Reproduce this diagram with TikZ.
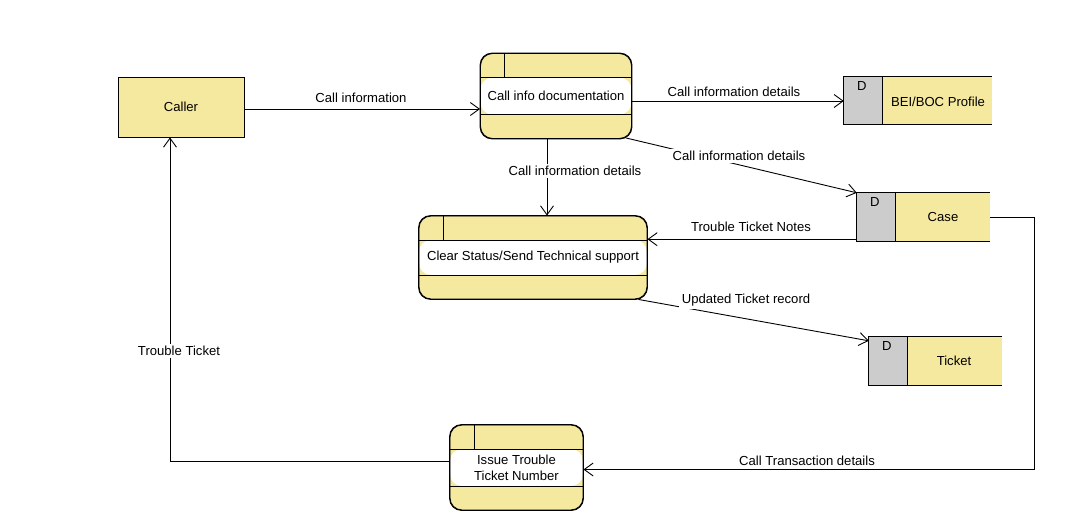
\documentclass[tikz,border=0pt]{standalone}
\usepackage{fontspec}
\setmainfont{Liberation Sans}
\usetikzlibrary{arrows.meta,calc}
\definecolor{dfdyellow}{RGB}{245,233,160}
\definecolor{dfdgray}{RGB}{204,204,204}
\tikzset{
  every node/.style={font=\fontsize{13.1}{16}\selectfont},
  ent/.style={draw, fill=dfdyellow, line width=0.9pt, inner sep=0pt},
  proc/.style={draw, fill=dfdyellow, line width=0.9pt, rounded corners=12pt, inner sep=0pt, align=center,
    path picture={
      \fill[white] ([yshift=-24pt]path picture bounding box.north west) rectangle ([yshift=24pt]path picture bounding box.south east);
      \draw[line width=0.9pt] ([yshift=-24pt]path picture bounding box.north west) -- ([yshift=-24pt]path picture bounding box.north east);
      \draw[line width=0.9pt] ([yshift=24pt]path picture bounding box.south west) -- ([yshift=24pt]path picture bounding box.south east);
      \draw[line width=0.9pt] ([xshift=24pt]path picture bounding box.north west) -- ([xshift=24pt,yshift=-24pt]path picture bounding box.north west);
    }},
  procborder/.style={draw, line width=0.9pt, rounded corners=12pt},
  store/.style={fill=dfdyellow, inner sep=0pt,
    path picture={
      \fill[dfdgray] (path picture bounding box.north west) rectangle ([xshift=38pt]path picture bounding box.south west);
      \draw[line width=0.9pt] ([xshift=38pt]path picture bounding box.north west) -- ([xshift=38pt]path picture bounding box.south west);
    }},
  arr/.style={draw, line width=0.9pt, -{Straight Barb[length=9pt,width=13pt,line width=0.9pt]}},
  lbl/.style={inner sep=1.5pt},
  lblbg/.style={fill=white, inner sep=2.5pt},
}
\newcommand{\storeborder}[1]{\draw[line width=0.9pt] (#1.north east) -- (#1.north west) -- (#1.south west) -- (#1.south east);}
\newcommand{\procborder}[1]{\draw[procborder] (#1.north west) rectangle (#1.south east);}
\begin{document}
\begin{tikzpicture}[x=1pt,y=-1pt]
\useasboundingbox (0,0) rectangle (1082,522);
% entities and processes
\node[ent, minimum width=126pt, minimum height=60pt] (caller) at (181,107) {Caller};
\node[proc, minimum width=151pt, minimum height=85pt] (ci) at (556,96) {Call info documentation};
\procborder{ci}
\node[proc, minimum width=228pt, minimum height=83pt] (clear) at (533,257.5) {Clear Status/Send Technical support};
\procborder{clear}
\node[proc, minimum width=133pt, minimum height=85pt] (issue) at (516.5,467.5) {Issue Trouble\\Ticket Number};
\procborder{issue}
% data stores
\node[store, minimum width=148pt, minimum height=47pt] (bei) at (918,100.5) {};
\storeborder{bei}
\node (beid) at ([xshift=18pt,yshift=-9pt]bei.north west) {D};
\node (beit) at (938,102) {BEI/BOC Profile};
\node[store, minimum width=133pt, minimum height=48pt] (case) at (923.5,217) {};
\storeborder{case}
\node (cased) at ([xshift=18pt,yshift=-9pt]case.north west) {D};
\node (caset) at (943,217) {Case};
\node[store, minimum width=133pt, minimum height=48pt] (ticket) at (935.5,361) {};
\storeborder{ticket}
\node (ticketd) at ([xshift=18pt,yshift=-9pt]ticket.north west) {D};
\node (tickett) at (954,361) {Ticket};
% connectors
\draw[arr] ([yshift=-2pt]caller.east) -- ([yshift=-2pt]caller.east -| ci.west);
\node[lbl] (l1) at (361,98) {Call information};
\draw[arr] ([yshift=-5pt]ci.east) -- ([yshift=-5pt]ci.east -| bei.west);
\node[lbl] (l2) at (734,92) {Call information details};
\draw[arr] ([shift={(-6,-1)}]ci.south east) -- (case.north west);
\node[lblbg] (l3) at (739,156) {Call information details};
\draw[arr] ([xshift=-9pt]ci.south) -- ([xshift=-9pt]ci.south |- clear.north);
\node[lblbg] (l4) at (575,171) {Call information details};
\draw[arr] ([yshift=2pt]case.south west) -- ([yshift=2pt]case.south west -| clear.east);
\node[lbl] (l5) at (751,227) {Trouble Ticket Notes};
\draw[arr] ([xshift=-9pt]clear.south east) -- ([yshift=-4pt]ticket.north west);
\node[lblbg] (l6) at (746,300) {Updated Ticket record};
\draw[arr] (case.east) -- ++(44,0) coordinate (c1) |- ([yshift=-2pt]issue.east);
\node[lbl] (l7) at (807,461) {Call Transaction details};
\draw[arr] ([yshift=6pt]issue.west) -| ([xshift=-11pt]caller.south);
\node[lblbg] (l8) at (179,351) {Trouble Ticket};
\end{tikzpicture}
\end{document}
